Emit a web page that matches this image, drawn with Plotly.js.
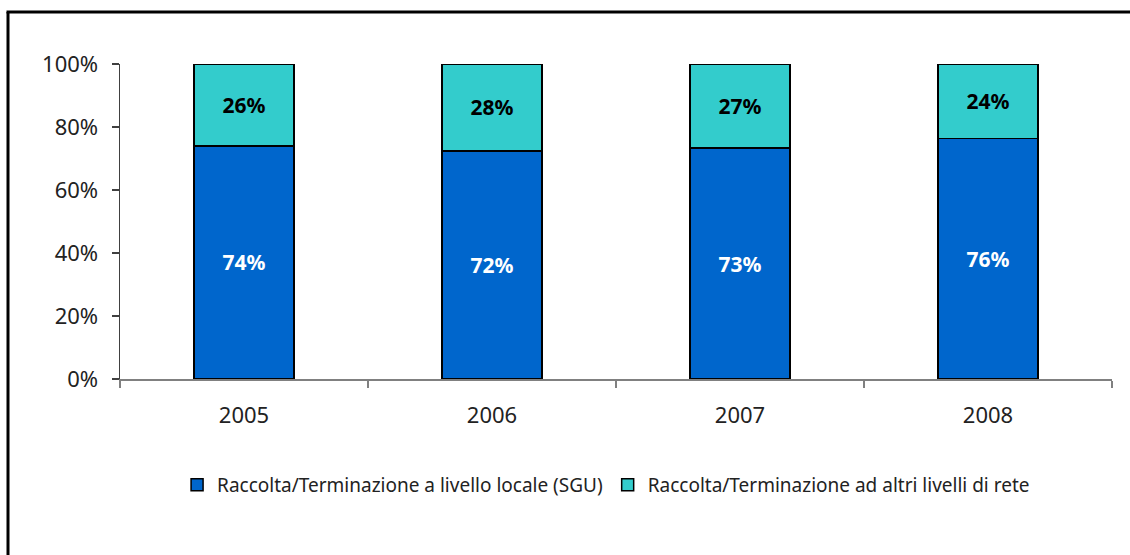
<!DOCTYPE html>
<html>
<head>
<meta charset="utf-8">
<script src="https://cdn.plot.ly/plotly-3.0.1.min.js"></script>
<style>html,body{margin:0;padding:0;background:#fff;}#chart{width:1130px;height:555px;}</style>
</head>
<body>
<div id="chart"></div>
<script>
const years = ['2005', '2006', '2007', '2008'];
const locale = [74.0, 72.4, 73.3, 76.4];
const altri = [26.0, 27.6, 26.7, 23.6];
const nameLocale = 'Raccolta/Terminazione a livello locale (SGU)';
const nameAltri = 'Raccolta/Terminazione ad altri livelli di rete';
const yTicks = [0, 20, 40, 60, 80, 100];
const yTickText = ['0%', '20%', '40%', '60%', '80%', '100%'];

const font = 'Noto Sans, DejaVu Sans, sans-serif';

const traces = [
  {
    type: 'bar', name: nameLocale, x: years, y: locale,
    marker: {color: '#0066CC', line: {color: '#000', width: 1.5}},
    text: locale.map(v => Math.round(v) + '%'),
    textposition: 'inside', insidetextanchor: 'middle',
    textfont: {family: font, size: 21, color: '#fff', weight: 'bold'},
    hoverinfo: 'none'
  },
  {
    type: 'bar', name: nameAltri, x: years, y: altri,
    marker: {color: '#33CCCC', line: {color: '#000', width: 1.5}},
    text: altri.map(v => Math.round(v) + '%'),
    textposition: 'inside', insidetextanchor: 'middle',
    textfont: {family: font, size: 21, color: '#000', weight: 'bold'},
    hoverinfo: 'none'
  }
];

const layout = {
  width: 1130, height: 555,
  margin: {l: 120, r: 18, t: 64, b: 176},
  paper_bgcolor: '#fff', plot_bgcolor: '#fff',
  barmode: 'stack', bargap: 0.597,
  font: {family: font, color: '#222'},
  showlegend: true,
  legend: {
    orientation: 'h', traceorder: 'normal',
    x: 0.49, xanchor: 'center', y: -0.336, yanchor: 'middle',
    font: {family: font, size: 19, color: '#222'}
  },
  xaxis: {
    type: 'category',
    showline: true, linecolor: '#808080', linewidth: 1.5,
    ticks: 'outside', tickson: 'boundaries', ticklen: 7, tickcolor: '#808080', tickwidth: 1.5,
    tickfont: {family: font, size: 22, color: '#222'},
    ticklabelstandoff: 16,
    showgrid: false, zeroline: false, fixedrange: true
  },
  yaxis: {
    range: [0, 100],
    tickvals: yTicks, ticktext: yTickText,
    showline: true, linecolor: '#404040', linewidth: 1.5,
    ticks: 'outside', ticklen: 7, tickcolor: '#404040', tickwidth: 1.5,
    tickfont: {family: font, size: 22, color: '#222'},
    ticklabelstandoff: 9,
    showgrid: false, zeroline: false, fixedrange: true
  },
  shapes: [
    {type: 'line', xref: 'paper', yref: 'paper', x0: -0.1129, x1: -0.1129, y0: 1.165, y1: -0.7, line: {color: '#000', width: 3}, layer: 'above'},
    {type: 'line', xref: 'paper', yref: 'paper', x0: -0.1144, x1: 1.05, y0: 1.165, y1: 1.165, line: {color: '#000', width: 3}, layer: 'above'}
  ]
};

Plotly.newPlot('chart', traces, layout, {displayModeBar: false, staticPlot: true});
</script>
</body>
</html>
